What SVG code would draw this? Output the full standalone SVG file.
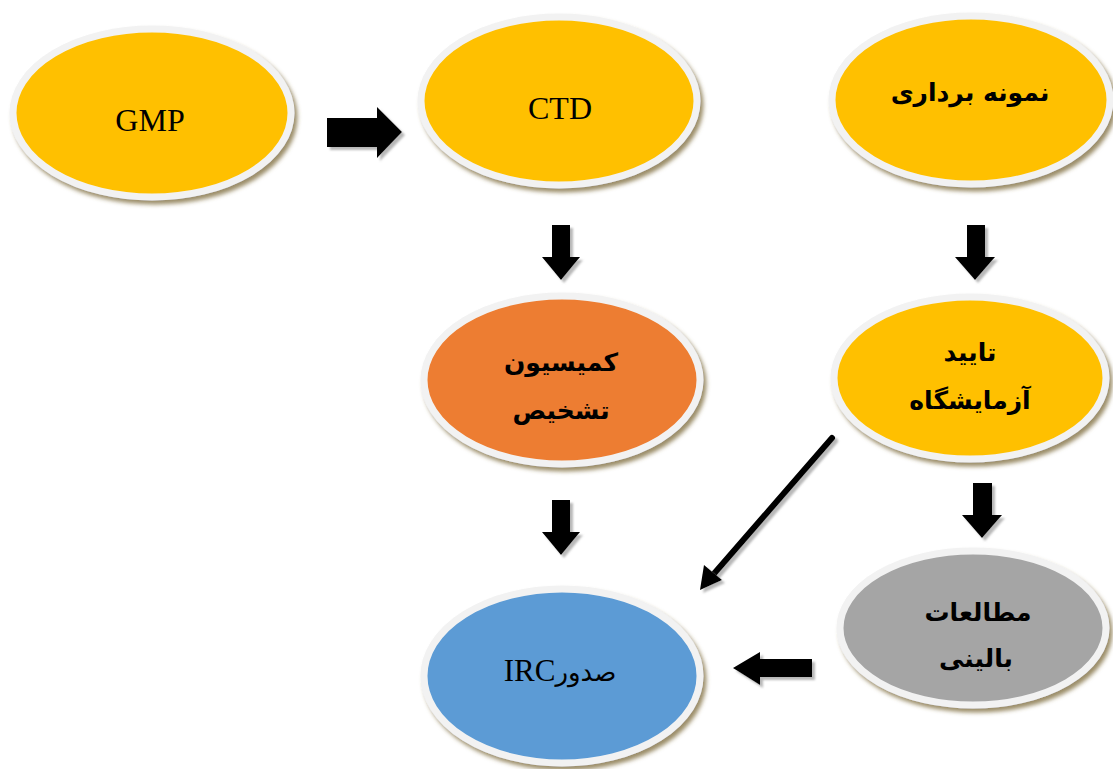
<svg xmlns="http://www.w3.org/2000/svg" width="1113" height="769" viewBox="0 0 1113 769">
<defs>
<filter id="esh" x="-10%" y="-10%" width="125%" height="130%">
<feDropShadow dx="3" dy="4" stdDeviation="2" flood-color="#7a6838" flood-opacity="0.75"/>
</filter>
<filter id="ash" x="-20%" y="-20%" width="150%" height="150%">
<feDropShadow dx="3" dy="3" stdDeviation="1.2" flood-color="#888" flood-opacity="0.6"/>
</filter>
</defs>
<style>
.ring{stroke:#f2f2f2;stroke-width:7;filter:url(#esh)}
.y{fill:#FFC000}.o{fill:#ED7D31}.b{fill:#5B9BD5}.g{fill:#A5A5A5}
.lat{font-family:"Liberation Serif",serif;font-size:32px;fill:#000;text-anchor:middle}
.fa{font-family:"DejaVu Sans",sans-serif;font-weight:bold;font-size:25px;fill:#000;text-anchor:middle}
.arr{fill:#000;filter:url(#ash)}
</style>
<rect width="1113" height="769" fill="#fff"/>
<g id="node-gmp"><ellipse class="ring y" cx="152" cy="113" rx="139" ry="84"/><text class="lat" x="150" y="131">GMP</text></g>
<g id="node-ctd"><ellipse class="ring y" cx="559" cy="101" rx="138" ry="84"/><text class="lat" x="560" y="119">CTD</text></g>
<g id="node-sampling"><ellipse class="ring y" cx="971" cy="100" rx="139" ry="84"/><text class="fa" x="970" y="101">نمونه برداری</text></g>
<g id="node-commission"><ellipse class="ring o" cx="562" cy="380" rx="138" ry="84"/><text class="fa" x="561" y="371">کمیسیون</text><text class="fa" x="561" y="419">تشخیص</text></g>
<g id="node-lab"><ellipse class="ring y" cx="970" cy="378" rx="136" ry="81"/><text class="fa" x="970" y="361">تایید</text><text class="fa" x="970" y="409">آزمایشگاه</text></g>
<g id="node-irc"><ellipse class="ring b" cx="562" cy="676" rx="138" ry="87"/><text x="560" y="681" direction="rtl" style="font-size:31px;text-anchor:middle;fill:#000"><tspan font-family="DejaVu Sans,sans-serif" font-size="26">صدور</tspan><tspan font-family="Liberation Serif,serif">IRC</tspan></text></g>
<g id="node-clinical"><ellipse class="ring g" cx="973" cy="628" rx="133" ry="77"/><text class="fa" x="978" y="621">مطالعات</text><text class="fa" x="976" y="667">بالینی</text></g>
<g id="connectors">
<polygon class="arr" points="327,118 377,118 377,107 402,132 377,158 377,147 327,147"/>
<polygon class="arr" points="552,225 570,225 570,257 580,257 561,280 542,257 552,257"/>
<polygon class="arr" points="967,225 985,225 985,257 995,257 975,280 955,257 967,257"/>
<polygon class="arr" points="552,500 570,500 570,532 580,532 561,555 542,532 552,532"/>
<polygon class="arr" points="973,483 992,483 992,515 1002,515 982,538 962,515 973,515"/>
<polygon class="arr" points="812,659 760,659 760,652 733,668 760,685 760,677 812,677"/>
<line x1="832" y1="438" x2="712" y2="576" stroke="#000" stroke-width="6" stroke-linecap="round" filter="url(#ash)"/>
<polygon class="arr" points="700,590 704,565 722,580"/>
</g>
</svg>
